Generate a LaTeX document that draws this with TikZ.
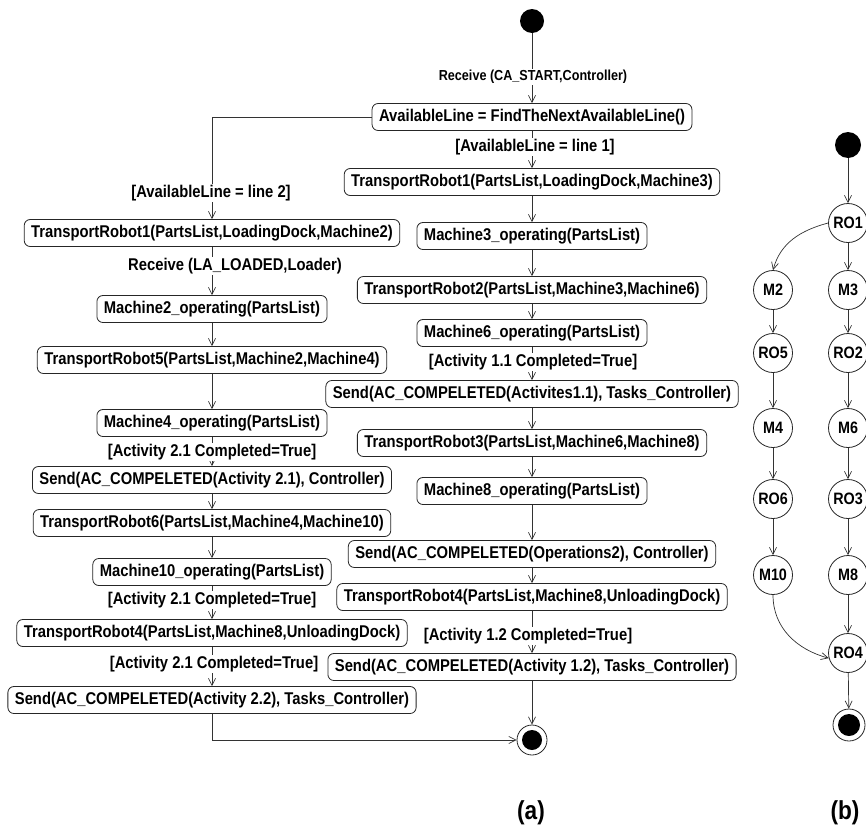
\documentclass[tikz,border=0pt]{standalone}
\usepackage{fontspec}
\setmainfont{Liberation Sans}[FakeStretch=0.87]
\usetikzlibrary{arrows.meta}
\begin{document}
\begin{tikzpicture}[x=1pt,y=-1pt,
  act/.style={draw=black!85, line width=0.8pt, rounded corners=6pt, fill=white,
    minimum height=27pt, inner xsep=7pt, inner ysep=0pt,
    font=\bfseries\fontsize{17}{19}\selectfont},
  guard/.style={fill=white, inner sep=1pt, font=\bfseries\fontsize{17}{19}\selectfont},
  smallguard/.style={fill=white, inner sep=1pt, font=\bfseries\fontsize{14.5}{16}\selectfont},
  flow/.style={draw=black!80, line width=0.7pt, -{Straight Barb[length=7pt,width=7pt]}},
  startdot/.style={circle, fill=black, minimum size=#1, inner sep=0pt},
  enddot/.style={circle, draw=black!85, line width=0.8pt, fill=white, minimum size=#1, inner sep=0pt},
  st/.style={circle, draw=black!85, line width=0.8pt, fill=white, minimum size=39pt, inner sep=0pt,
    font=\bfseries\fontsize{16.5}{18}\selectfont},
  caption/.style={font=\bfseries\fontsize{26}{29}\selectfont}
]
\useasboundingbox (0,0) rectangle (866,827);

% ---------- (a) activity diagram ----------
\node[startdot=24pt] (s) at (532,21) {};
\node[act] (b1) at (532,117) {AvailableLine = FindTheNextAvailableLine()};

% line 1 (right column)
\node[act] (r1) at (532,182) {TransportRobot1(PartsList,LoadingDock,Machine3)};
\node[act] (r2) at (532,236) {Machine3\_operating(PartsList)};
\node[act] (r3) at (532,290) {TransportRobot2(PartsList,Machine3,Machine6)};
\node[act] (r4) at (532,333) {Machine6\_operating(PartsList)};
\node[act] (r5) at (532,394) {Send(AC\_COMPELETED(Activites1.1), Tasks\_Controller)};
\node[act] (r6) at (532,443) {TransportRobot3(PartsList,Machine6,Machine8)};
\node[act] (r7) at (532,491) {Machine8\_operating(PartsList)};
\node[act] (r8) at (532,554) {Send(AC\_COMPELETED(Operations2), Controller)};
\node[act] (r9) at (532,597) {TransportRobot4(PartsList,Machine8,UnloadingDock)};
\node[act] (r10) at (532,667) {Send(AC\_COMPELETED(Activity 1.2), Tasks\_Controller)};
\node[enddot=30pt] (e) at (532,740) {};
\fill[black] (e.center) circle (10pt);

% line 2 (left column)
\node[act] (l1) at (212,233) {TransportRobot1(PartsList,LoadingDock,Machine2)};
\node[act] (l2) at (212,309) {Machine2\_operating(PartsList)};
\node[act] (l3) at (212,360) {TransportRobot5(PartsList,Machine2,Machine4)};
\node[act] (l4) at (212,423) {Machine4\_operating(PartsList)};
\node[act] (l5) at (212,480) {Send(AC\_COMPELETED(Activity 2.1), Controller)};
\node[act] (l6) at (212,523) {TransportRobot6(PartsList,Machine4,Machine10)};
\node[act] (l7) at (212,572) {Machine10\_operating(PartsList)};
\node[act] (l8) at (212,633) {TransportRobot4(PartsList,Machine8,UnloadingDock)};
\node[act] (l9) at (212,700) {Send(AC\_COMPELETED(Activity 2.2), Tasks\_Controller)};

\coordinate (split) at (212,117);
\coordinate (join) at (212,740);

% transitions
\draw[flow] (s) -- (b1);
\draw[flow] (b1) -- (r1);
\draw[flow] (r1) -- (r2);
\draw[flow] (r2) -- (r3);
\draw[flow] (r3) -- (r4);
\draw[flow] (r4) -- (r5);
\draw[flow] (r5) -- (r6);
\draw[flow] (r6) -- (r7);
\draw[flow] (r7) -- (r8);
\draw[flow] (r8) -- (r9);
\draw[flow] (r9) -- (r10);
\draw[flow] (r10) -- (e);

\draw[flow] (b1.west) -- (split) -- (l1);
\draw[flow] (l1) -- (l2);
\draw[flow] (l2) -- (l3);
\draw[flow] (l3) -- (l4);
\draw[flow] (l4) -- (l5);
\draw[flow] (l5) -- (l6);
\draw[flow] (l6) -- (l7);
\draw[flow] (l7) -- (l8);
\draw[flow] (l8) -- (l9);
\draw[flow] (l9) -- (join) -- (e);

% guards and triggers
\node[smallguard] (g0) at (533,77) {Receive (CA\_START,Controller)};
\node[guard] (g1) at (535,147) {[AvailableLine = line 1]};
\node[guard] (g2) at (211,193) {[AvailableLine = line 2]};
\node[guard] (g3) at (235,266) {Receive (LA\_LOADED,Loader)};
\node[guard] (g4) at (533,362) {[Activity 1.1 Completed=True]};
\node[guard] (g5) at (212,452) {[Activity 2.1 Completed=True]};
\node[guard] (g6) at (212,600) {[Activity 2.1 Completed=True]};
\node[guard] (g7) at (528,636) {[Activity 1.2 Completed=True]};
\node[guard] (g8) at (214,664) {[Activity 2.1 Completed=True]};

\node[caption] (capa) at (531,813) {(a)};

% ---------- (b) operation graph ----------
\node[startdot=26pt] (sb) at (848,145) {};
\node[st] (RO1) at (848,223) {RO1};
\node[st] (M2) at (773,290) {M2};
\node[st] (M3) at (848,290) {M3};
\node[st] (RO5) at (773,353) {RO5};
\node[st] (RO2) at (848,353) {RO2};
\node[st] (M4) at (773,428) {M4};
\node[st] (M6) at (848,428) {M6};
\node[st] (RO6) at (773,499) {RO6};
\node[st] (RO3) at (848,499) {RO3};
\node[st] (M10) at (773,575) {M10};
\node[st] (M8) at (848,575) {M8};
\node[st] (RO4) at (848,653) {RO4};
\node[enddot=32pt] (eb) at (849,725) {};
\fill[black] (eb.center) circle (11pt);

\draw[flow] (sb) -- (RO1);
\draw[flow] (RO1) -- (M3);
\draw[flow] (M3) -- (RO2);
\draw[flow] (RO2) -- (M6);
\draw[flow] (M6) -- (RO3);
\draw[flow] (RO3) -- (M8);
\draw[flow] (M8) -- (RO4);
\draw[flow] (RO4) -- (eb);
\draw[flow] (RO1.west) to[out=195,in=75] (M2.north);
\draw[flow] (M2) -- (RO5);
\draw[flow] (RO5) -- (M4);
\draw[flow] (M4) -- (RO6);
\draw[flow] (RO6) -- (M10);
\draw[flow] (M10.south) to[out=-90,in=165] (RO4.195);

\node[caption] (capb) at (845,813) {(b)};
\end{tikzpicture}
\end{document}
